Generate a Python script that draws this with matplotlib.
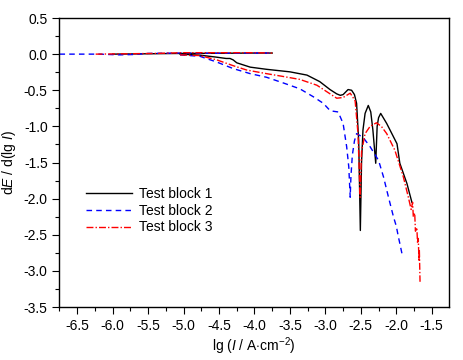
import numpy as np
import matplotlib
matplotlib.use("Agg")
import matplotlib.pyplot as plt
import matplotlib.ticker as mtick

plt.rcParams['font.family'] = ['Liberation Sans', 'DejaVu Sans']
plt.rcParams['mathtext.fontset'] = 'custom'
plt.rcParams['mathtext.rm'] = 'Liberation Sans'
plt.rcParams['mathtext.it'] = 'Liberation Sans:italic'
plt.rcParams['font.size'] = 10

# flat (other branch) segments, lg I and dE/dlgI
flat1_x = [-6.0, -5.5, -5.0, -4.5, -4.0, -3.75]
flat1_y = [0.0, 0.005, 0.01, 0.012, 0.015, 0.015]
flat2_x = [-6.75, -6.2, -5.9, -5.7, -5.5, -5.0, -4.5, -4.0, -3.75]
flat2_y = [0.0, 0.0, -0.01, -0.005, 0.01, 0.015, 0.012, 0.015, 0.015]
flat3_x = [-6.24, -5.8, -5.4, -5.0, -4.5, -4.0, -3.75]
flat3_y = [0.0, 0.005, 0.01, 0.02, 0.02, 0.02, 0.015]

# main branch
b1_x = [-5.05, -4.77, -4.55, -4.40, -4.345, -4.30, -4.25, -4.06, -3.83, -3.50, -3.26,
        -3.08, -2.935, -2.84, -2.79, -2.75, -2.68, -2.63, -2.59, -2.56, -2.53, -2.507,
        -2.49, -2.47, -2.44, -2.395, -2.36, -2.33, -2.29, -2.27, -2.25, -2.22, -2.135,
        -1.99, -1.95, -1.85, -1.78]
b1_y = [0.0, -0.014, -0.04, -0.06, -0.06, -0.08, -0.12, -0.18, -0.21, -0.245, -0.29,
        -0.38, -0.49, -0.55, -0.57, -0.56, -0.49, -0.50, -0.56, -0.68, -1.20, -2.44,
        -1.50, -1.05, -0.82, -0.71, -0.80, -1.05, -1.51, -1.00, -0.88, -0.82, -0.96,
        -1.24, -1.51, -1.79, -2.05]
b2_x = [-5.05, -4.77, -4.53, -4.30, -4.06, -3.83, -3.59, -3.36, -3.17, -3.03, -2.935,
        -2.89, -2.82, -2.75, -2.70, -2.67, -2.65, -2.64, -2.62, -2.59, -2.56, -2.47,
        -2.37, -2.25, -2.18, -2.11, -2.04, -2.00, -1.97, -1.95, -1.92]
b2_y = [-0.01, -0.03, -0.11, -0.20, -0.27, -0.32, -0.40, -0.48, -0.59, -0.68, -0.78,
        -0.79, -0.80, -0.96, -1.28, -1.56, -1.98, -1.70, -1.40, -1.20, -1.10, -1.15,
        -1.28, -1.47, -1.70, -1.98, -2.25, -2.38, -2.53, -2.62, -2.76]
b3_x = [-5.05, -4.77, -4.53, -4.30, -4.11, -3.83, -3.59, -3.36, -3.12, -2.98, -2.84,
        -2.75, -2.65, -2.61, -2.58, -2.54, -2.51, -2.49, -2.44, -2.37, -2.28, -2.21,
        -2.135, -2.02, -1.90, -1.83, -1.79, -1.77, -1.76, -1.74, -1.73, -1.71, -1.70,
        -1.69, -1.68, -1.675, -1.665]
b3_y = [-0.01, -0.02, -0.08, -0.16, -0.22, -0.27, -0.31, -0.35, -0.43, -0.52, -0.61,
        -0.60, -0.54, -0.60, -0.65, -1.10, -1.98, -1.35, -1.10, -1.00, -0.95, -1.00,
        -1.10, -1.33, -1.70, -1.98, -2.15, -2.05, -2.25, -2.20, -2.45, -2.40, -2.62,
        -2.55, -2.85, -2.70, -3.15]

labels = ["Test block 1", "Test block 2", "Test block 3"]

fig = plt.figure(figsize=(4.63, 3.6), dpi=100)
ax = fig.add_axes([0.1285, 0.147, 0.8415, 0.803])

ax.plot(flat1_x, flat1_y, color="black", lw=1.0, ls="-")
ax.plot(flat2_x, flat2_y, color="blue", lw=1.0, ls=(0, (4, 3)))
ax.plot(flat3_x, flat3_y, color="red", lw=1.0, ls=(0, (5, 1.5, 1, 1.5)))
ax.plot(b1_x, b1_y, color="black", lw=1.0, ls="-", label=labels[0])
ax.plot(b2_x, b2_y, color="blue", lw=1.0, ls=(0, (4, 3)), label=labels[1])
ax.plot(b3_x, b3_y, color="red", lw=1.0, ls=(0, (5, 1.5, 1, 1.5)), label=labels[2])

ax.set_xlim(-6.75, -1.255)
ax.set_ylim(-3.5, 0.5)
ax.xaxis.set_major_locator(mtick.MultipleLocator(0.5))
ax.xaxis.set_minor_locator(mtick.MultipleLocator(0.25))
ax.yaxis.set_major_locator(mtick.MultipleLocator(0.5))
ax.yaxis.set_minor_locator(mtick.MultipleLocator(0.25))
ax.xaxis.set_major_formatter(mtick.FormatStrFormatter("%.1f"))
ax.yaxis.set_major_formatter(mtick.FormatStrFormatter("%.1f"))
ax.tick_params(which="major", direction="out", length=5, width=0.8)
ax.tick_params(which="minor", direction="out", length=3, width=0.8)
for s in ax.spines.values():
    s.set_linewidth(1.0)

ax.set_xlabel(r"lg ($I$ / A$\cdot$cm$^{-2}$)", labelpad=2)
ax.set_ylabel(r"d$E$ / d(lg $I$)", labelpad=4)

ax.legend(loc="upper left", bbox_to_anchor=(0.055, 0.435), frameon=False,
          handlelength=3.3, handletextpad=0.5, labelspacing=0.2, borderaxespad=0)

fig.savefig("out.png", dpi=100)
